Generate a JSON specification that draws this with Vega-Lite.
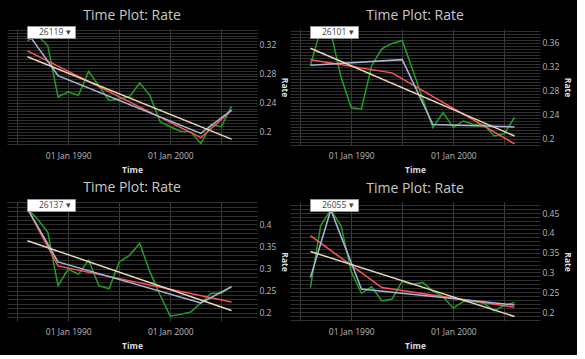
{
  "$schema": "https://vega.github.io/schema/vega-lite/v6.json",
  "background": "black",
  "padding": {"left": 7, "top": 8, "right": 5, "bottom": 5},
  "data": {
    "values": [
      {"id": "26119", "series": "Rate", "date": "1986-01-01", "rate": 0.325},
      {"id": "26119", "series": "Rate", "date": "1987-01-01", "rate": 0.332},
      {"id": "26119", "series": "Rate", "date": "1988-01-01", "rate": 0.318},
      {"id": "26119", "series": "Rate", "date": "1989-01-01", "rate": 0.248},
      {"id": "26119", "series": "Rate", "date": "1990-01-01", "rate": 0.255},
      {"id": "26119", "series": "Rate", "date": "1991-01-01", "rate": 0.25},
      {"id": "26119", "series": "Rate", "date": "1992-01-01", "rate": 0.283},
      {"id": "26119", "series": "Rate", "date": "1993-01-01", "rate": 0.263},
      {"id": "26119", "series": "Rate", "date": "1994-01-01", "rate": 0.243},
      {"id": "26119", "series": "Rate", "date": "1995-01-01", "rate": 0.245},
      {"id": "26119", "series": "Rate", "date": "1996-01-01", "rate": 0.248},
      {"id": "26119", "series": "Rate", "date": "1997-01-01", "rate": 0.267},
      {"id": "26119", "series": "Rate", "date": "1998-01-01", "rate": 0.25},
      {"id": "26119", "series": "Rate", "date": "1999-01-01", "rate": 0.214},
      {"id": "26119", "series": "Rate", "date": "2000-01-01", "rate": 0.207},
      {"id": "26119", "series": "Rate", "date": "2001-01-01", "rate": 0.201},
      {"id": "26119", "series": "Rate", "date": "2002-01-01", "rate": 0.2},
      {"id": "26119", "series": "Rate", "date": "2003-01-01", "rate": 0.184},
      {"id": "26119", "series": "Rate", "date": "2004-01-01", "rate": 0.21},
      {"id": "26119", "series": "Rate", "date": "2005-01-01", "rate": 0.207},
      {"id": "26119", "series": "Rate", "date": "2006-01-01", "rate": 0.235},
      {"id": "26119", "series": "Segmented fit", "date": "1986-01-01", "rate": 0.311},
      {"id": "26119", "series": "Segmented fit", "date": "2003-01-01", "rate": 0.192},
      {"id": "26119", "series": "Segmented fit", "date": "2006-01-01", "rate": 0.2295},
      {"id": "26119", "series": "Breakpoint fit", "date": "1986-01-01", "rate": 0.336},
      {"id": "26119", "series": "Breakpoint fit", "date": "1989-01-01", "rate": 0.277},
      {"id": "26119", "series": "Breakpoint fit", "date": "2003-01-01", "rate": 0.198},
      {"id": "26119", "series": "Breakpoint fit", "date": "2006-01-01", "rate": 0.23},
      {"id": "26119", "series": "Linear trend", "date": "1986-01-01", "rate": 0.303},
      {"id": "26119", "series": "Linear trend", "date": "2006-01-01", "rate": 0.19},

      {"id": "26101", "series": "Rate", "date": "1986-01-01", "rate": 0.3225},
      {"id": "26101", "series": "Rate", "date": "1987-01-01", "rate": 0.382},
      {"id": "26101", "series": "Rate", "date": "1988-01-01", "rate": 0.378},
      {"id": "26101", "series": "Rate", "date": "1989-01-01", "rate": 0.303},
      {"id": "26101", "series": "Rate", "date": "1990-01-01", "rate": 0.252},
      {"id": "26101", "series": "Rate", "date": "1991-01-01", "rate": 0.25},
      {"id": "26101", "series": "Rate", "date": "1992-01-01", "rate": 0.322},
      {"id": "26101", "series": "Rate", "date": "1993-01-01", "rate": 0.35},
      {"id": "26101", "series": "Rate", "date": "1994-01-01", "rate": 0.359},
      {"id": "26101", "series": "Rate", "date": "1995-01-01", "rate": 0.364},
      {"id": "26101", "series": "Rate", "date": "1996-01-01", "rate": 0.316},
      {"id": "26101", "series": "Rate", "date": "1997-01-01", "rate": 0.267},
      {"id": "26101", "series": "Rate", "date": "1998-01-01", "rate": 0.219},
      {"id": "26101", "series": "Rate", "date": "1999-01-01", "rate": 0.244},
      {"id": "26101", "series": "Rate", "date": "2000-01-01", "rate": 0.219},
      {"id": "26101", "series": "Rate", "date": "2001-01-01", "rate": 0.23},
      {"id": "26101", "series": "Rate", "date": "2002-01-01", "rate": 0.224},
      {"id": "26101", "series": "Rate", "date": "2003-01-01", "rate": 0.224},
      {"id": "26101", "series": "Rate", "date": "2004-01-01", "rate": 0.205},
      {"id": "26101", "series": "Rate", "date": "2005-01-01", "rate": 0.209},
      {"id": "26101", "series": "Rate", "date": "2006-01-01", "rate": 0.236},
      {"id": "26101", "series": "Segmented fit", "date": "1986-01-01", "rate": 0.332},
      {"id": "26101", "series": "Segmented fit", "date": "1994-01-01", "rate": 0.31},
      {"id": "26101", "series": "Segmented fit", "date": "2006-01-01", "rate": 0.192},
      {"id": "26101", "series": "Breakpoint fit", "date": "1986-01-01", "rate": 0.3225},
      {"id": "26101", "series": "Breakpoint fit", "date": "1995-01-01", "rate": 0.332},
      {"id": "26101", "series": "Breakpoint fit", "date": "1998-01-01", "rate": 0.224},
      {"id": "26101", "series": "Breakpoint fit", "date": "2006-01-01", "rate": 0.22},
      {"id": "26101", "series": "Linear trend", "date": "1986-01-01", "rate": 0.351},
      {"id": "26101", "series": "Linear trend", "date": "2006-01-01", "rate": 0.205},

      {"id": "26137", "series": "Rate", "date": "1986-01-01", "rate": 0.436},
      {"id": "26137", "series": "Rate", "date": "1987-01-01", "rate": 0.412},
      {"id": "26137", "series": "Rate", "date": "1988-01-01", "rate": 0.382},
      {"id": "26137", "series": "Rate", "date": "1989-01-01", "rate": 0.261},
      {"id": "26137", "series": "Rate", "date": "1990-01-01", "rate": 0.299},
      {"id": "26137", "series": "Rate", "date": "1991-01-01", "rate": 0.287},
      {"id": "26137", "series": "Rate", "date": "1992-01-01", "rate": 0.319},
      {"id": "26137", "series": "Rate", "date": "1993-01-01", "rate": 0.261},
      {"id": "26137", "series": "Rate", "date": "1994-01-01", "rate": 0.254},
      {"id": "26137", "series": "Rate", "date": "1995-01-01", "rate": 0.315},
      {"id": "26137", "series": "Rate", "date": "1996-01-01", "rate": 0.33},
      {"id": "26137", "series": "Rate", "date": "1997-01-01", "rate": 0.357},
      {"id": "26137", "series": "Rate", "date": "1998-01-01", "rate": 0.293},
      {"id": "26137", "series": "Rate", "date": "1999-01-01", "rate": 0.24},
      {"id": "26137", "series": "Rate", "date": "2000-01-01", "rate": 0.192},
      {"id": "26137", "series": "Rate", "date": "2001-01-01", "rate": 0.196},
      {"id": "26137", "series": "Rate", "date": "2002-01-01", "rate": 0.2015},
      {"id": "26137", "series": "Rate", "date": "2003-01-01", "rate": 0.222},
      {"id": "26137", "series": "Rate", "date": "2004-01-01", "rate": 0.244},
      {"id": "26137", "series": "Rate", "date": "2005-01-01", "rate": 0.244},
      {"id": "26137", "series": "Rate", "date": "2006-01-01", "rate": 0.259},
      {"id": "26137", "series": "Segmented fit", "date": "1986-01-01", "rate": 0.436},
      {"id": "26137", "series": "Segmented fit", "date": "1989-01-01", "rate": 0.306},
      {"id": "26137", "series": "Segmented fit", "date": "2006-01-01", "rate": 0.224},
      {"id": "26137", "series": "Breakpoint fit", "date": "1986-01-01", "rate": 0.436},
      {"id": "26137", "series": "Breakpoint fit", "date": "1989-01-01", "rate": 0.315},
      {"id": "26137", "series": "Breakpoint fit", "date": "2003-01-01", "rate": 0.222},
      {"id": "26137", "series": "Breakpoint fit", "date": "2006-01-01", "rate": 0.259},
      {"id": "26137", "series": "Linear trend", "date": "1986-01-01", "rate": 0.363},
      {"id": "26137", "series": "Linear trend", "date": "2006-01-01", "rate": 0.205},

      {"id": "26055", "series": "Rate", "date": "1986-01-01", "rate": 0.262},
      {"id": "26055", "series": "Rate", "date": "1987-01-01", "rate": 0.418},
      {"id": "26055", "series": "Rate", "date": "1988-01-01", "rate": 0.458},
      {"id": "26055", "series": "Rate", "date": "1989-01-01", "rate": 0.418},
      {"id": "26055", "series": "Rate", "date": "1990-01-01", "rate": 0.302},
      {"id": "26055", "series": "Rate", "date": "1991-01-01", "rate": 0.2475},
      {"id": "26055", "series": "Rate", "date": "1992-01-01", "rate": 0.264},
      {"id": "26055", "series": "Rate", "date": "1993-01-01", "rate": 0.228},
      {"id": "26055", "series": "Rate", "date": "1994-01-01", "rate": 0.233},
      {"id": "26055", "series": "Rate", "date": "1995-01-01", "rate": 0.278},
      {"id": "26055", "series": "Rate", "date": "1996-01-01", "rate": 0.27},
      {"id": "26055", "series": "Rate", "date": "1997-01-01", "rate": 0.275},
      {"id": "26055", "series": "Rate", "date": "1998-01-01", "rate": 0.253},
      {"id": "26055", "series": "Rate", "date": "1999-01-01", "rate": 0.239},
      {"id": "26055", "series": "Rate", "date": "2000-01-01", "rate": 0.21},
      {"id": "26055", "series": "Rate", "date": "2001-01-01", "rate": 0.227},
      {"id": "26055", "series": "Rate", "date": "2002-01-01", "rate": 0.227},
      {"id": "26055", "series": "Rate", "date": "2003-01-01", "rate": 0.2225},
      {"id": "26055", "series": "Rate", "date": "2004-01-01", "rate": 0.203},
      {"id": "26055", "series": "Rate", "date": "2005-01-01", "rate": 0.217},
      {"id": "26055", "series": "Rate", "date": "2006-01-01", "rate": 0.224},
      {"id": "26055", "series": "Segmented fit", "date": "1986-01-01", "rate": 0.393},
      {"id": "26055", "series": "Segmented fit", "date": "1993-01-01", "rate": 0.262},
      {"id": "26055", "series": "Segmented fit", "date": "2006-01-01", "rate": 0.2125},
      {"id": "26055", "series": "Breakpoint fit", "date": "1986-01-01", "rate": 0.287},
      {"id": "26055", "series": "Breakpoint fit", "date": "1988-01-01", "rate": 0.458},
      {"id": "26055", "series": "Breakpoint fit", "date": "1991-01-01", "rate": 0.258},
      {"id": "26055", "series": "Breakpoint fit", "date": "2006-01-01", "rate": 0.218},
      {"id": "26055", "series": "Linear trend", "date": "1986-01-01", "rate": 0.353},
      {"id": "26055", "series": "Linear trend", "date": "2006-01-01", "rate": 0.189}
    ]
  },
  "resolve": {"scale": {"opacity": "independent", "y": "independent"}, "legend": {"opacity": "independent"}},
  "spacing": 7,
  "vconcat": [
    {
      "resolve": {"scale": {"opacity": "independent", "y": "independent"}, "legend": {"opacity": "independent"}},
      "spacing": 1,
      "hconcat": [
        {
          "title": "Time Plot: Rate",
          "width": 250, "height": 116,
          "transform": [{"filter": "datum.id == '26119'"}],
          "mark": {"type": "line", "strokeWidth": 1.5, "clip": true},
          "encoding": {
            "x": {"field": "date", "type": "temporal", "title": "Time",
              "scale": {"type": "utc", "domain": [{"year": 1984, "month": 1, "date": 1, "utc": true}, {"year": 2008, "month": 7, "date": 1, "utc": true}]},
              "axis": {"values": [{"year": 1985, "utc": true}, {"year": 1990, "utc": true}, {"year": 1995, "utc": true}, {"year": 2000, "utc": true}, {"year": 2005, "utc": true}],
                "labelExpr": "(utcFormat(datum.value, '%Y') == '1990' || utcFormat(datum.value, '%Y') == '2000') ? utcFormat(datum.value, '%d %b %Y') : ''", "gridColor": "#3c3c3c"}},
            "y": {"field": "rate", "type": "quantitative", "title": "Rate",
              "scale": {"domain": [0.182, 0.341], "nice": false, "zero": false},
              "axis": {"orient": "right", "values": [0.184,0.188,0.192,0.196,0.2,0.204,0.208,0.212,0.216,0.22,0.224,0.228,0.232,0.236,0.24,0.244,0.248,0.252,0.256,0.26,0.264,0.268,0.272,0.276,0.28,0.284,0.288,0.292,0.296,0.3,0.304,0.308,0.312,0.316,0.32,0.324,0.328,0.332,0.336,0.34],
                "labelExpr": "abs(datum.value*25 - round(datum.value*25)) < 0.01 ? toString(round(datum.value*100)/100) : ''"}},
            "color": {"field": "series", "type": "nominal", "scale": {"domain": ["Rate", "Segmented fit", "Breakpoint fit", "Linear trend"], "range": ["#22a022", "#ff5555", "#a9b6da", "#e8d6b4"]}, "legend": null},
            "opacity": {"field": "id", "type": "nominal", "scale": {"range": [1]},
              "legend": {"orient": "none", "legendX": 20, "legendY": -3, "title": null, "fillColor": "white", "strokeColor": "#999", "padding": 1.5, "symbolSize": 0, "symbolStrokeWidth": 0, "labelOffset": 2, "labelColor": "#444", "labelFontSize": 8.5, "labelExpr": "datum.label + '  \u25be'"}}
          }
        },
        {
          "title": "Time Plot: Rate",
          "width": 250, "height": 116,
          "transform": [{"filter": "datum.id == '26101'"}],
          "mark": {"type": "line", "strokeWidth": 1.5, "clip": true},
          "encoding": {
            "x": {"field": "date", "type": "temporal", "title": "Time",
              "scale": {"type": "utc", "domain": [{"year": 1984, "month": 1, "date": 1, "utc": true}, {"year": 2008, "month": 7, "date": 1, "utc": true}]},
              "axis": {"values": [{"year": 1985, "utc": true}, {"year": 1990, "utc": true}, {"year": 1995, "utc": true}, {"year": 2000, "utc": true}, {"year": 2005, "utc": true}],
                "labelExpr": "(utcFormat(datum.value, '%Y') == '1990' || utcFormat(datum.value, '%Y') == '2000') ? utcFormat(datum.value, '%d %b %Y') : ''", "gridColor": "#3c3c3c"}},
            "y": {"field": "rate", "type": "quantitative", "title": "Rate",
              "scale": {"domain": [0.19, 0.383], "nice": false, "zero": false},
              "axis": {"orient": "right", "values": [0.19,0.195,0.2,0.205,0.21,0.215,0.22,0.225,0.23,0.235,0.24,0.245,0.25,0.255,0.26,0.265,0.27,0.275,0.28,0.285,0.29,0.295,0.3,0.305,0.31,0.315,0.32,0.325,0.33,0.335,0.34,0.345,0.35,0.355,0.36,0.365,0.37,0.375,0.38],
                "labelExpr": "abs(datum.value*25 - round(datum.value*25)) < 0.01 ? toString(round(datum.value*100)/100) : ''"}},
            "color": {"field": "series", "type": "nominal", "scale": {"domain": ["Rate", "Segmented fit", "Breakpoint fit", "Linear trend"], "range": ["#22a022", "#ff5555", "#a9b6da", "#e8d6b4"]}, "legend": null},
            "opacity": {"field": "id", "type": "nominal", "scale": {"range": [1]},
              "legend": {"orient": "none", "legendX": 20, "legendY": -3, "title": null, "fillColor": "white", "strokeColor": "#999", "padding": 1.5, "symbolSize": 0, "symbolStrokeWidth": 0, "labelOffset": 2, "labelColor": "#444", "labelFontSize": 8.5, "labelExpr": "datum.label + '  \u25be'"}}
          }
        }
      ]
    },
    {
      "resolve": {"scale": {"opacity": "independent", "y": "independent"}, "legend": {"opacity": "independent"}},
      "spacing": 1,
      "hconcat": [
        {
          "title": "Time Plot: Rate",
          "width": 250, "height": 119,
          "transform": [{"filter": "datum.id == '26137'"}],
          "mark": {"type": "line", "strokeWidth": 1.5, "clip": true},
          "encoding": {
            "x": {"field": "date", "type": "temporal", "title": "Time",
              "scale": {"type": "utc", "domain": [{"year": 1984, "month": 1, "date": 1, "utc": true}, {"year": 2008, "month": 7, "date": 1, "utc": true}]},
              "axis": {"values": [{"year": 1985, "utc": true}, {"year": 1990, "utc": true}, {"year": 1995, "utc": true}, {"year": 2000, "utc": true}, {"year": 2005, "utc": true}],
                "labelExpr": "(utcFormat(datum.value, '%Y') == '1990' || utcFormat(datum.value, '%Y') == '2000') ? utcFormat(datum.value, '%d %b %Y') : ''", "gridColor": "#3c3c3c"}},
            "y": {"field": "rate", "type": "quantitative", "title": "Rate",
              "scale": {"domain": [0.181, 0.451], "nice": false, "zero": false},
              "axis": {"orient": "right", "values": [0.19,0.2,0.21,0.22,0.23,0.24,0.25,0.26,0.27,0.28,0.29,0.3,0.31,0.32,0.33,0.34,0.35,0.36,0.37,0.38,0.39,0.4,0.41,0.42,0.43,0.44,0.45],
                "labelExpr": "datum.value < 0.445 && abs(datum.value*20 - round(datum.value*20)) < 0.01 ? toString(round(datum.value*100)/100) : ''"}},
            "color": {"field": "series", "type": "nominal", "scale": {"domain": ["Rate", "Segmented fit", "Breakpoint fit", "Linear trend"], "range": ["#22a022", "#ff5555", "#a9b6da", "#e8d6b4"]}, "legend": null},
            "opacity": {"field": "id", "type": "nominal", "scale": {"range": [1]},
              "legend": {"orient": "none", "legendX": 20, "legendY": -3, "title": null, "fillColor": "white", "strokeColor": "#999", "padding": 1.5, "symbolSize": 0, "symbolStrokeWidth": 0, "labelOffset": 2, "labelColor": "#444", "labelFontSize": 8.5, "labelExpr": "datum.label + '  \u25be'"}}
          }
        },
        {
          "title": "Time Plot: Rate",
          "width": 250, "height": 119,
          "transform": [{"filter": "datum.id == '26055'"}],
          "mark": {"type": "line", "strokeWidth": 1.5, "clip": true},
          "encoding": {
            "x": {"field": "date", "type": "temporal", "title": "Time",
              "scale": {"type": "utc", "domain": [{"year": 1984, "month": 1, "date": 1, "utc": true}, {"year": 2008, "month": 7, "date": 1, "utc": true}]},
              "axis": {"values": [{"year": 1985, "utc": true}, {"year": 1990, "utc": true}, {"year": 1995, "utc": true}, {"year": 2000, "utc": true}, {"year": 2005, "utc": true}],
                "labelExpr": "(utcFormat(datum.value, '%Y') == '1990' || utcFormat(datum.value, '%Y') == '2000') ? utcFormat(datum.value, '%d %b %Y') : ''", "gridColor": "#3c3c3c"}},
            "y": {"field": "rate", "type": "quantitative", "title": "Rate",
              "scale": {"domain": [0.1775, 0.478], "nice": false, "zero": false},
              "axis": {"orient": "right", "values": [0.18,0.19,0.2,0.21,0.22,0.23,0.24,0.25,0.26,0.27,0.28,0.29,0.3,0.31,0.32,0.33,0.34,0.35,0.36,0.37,0.38,0.39,0.4,0.41,0.42,0.43,0.44,0.45,0.46,0.47],
                "labelExpr": "abs(datum.value*20 - round(datum.value*20)) < 0.01 ? toString(round(datum.value*100)/100) : ''"}},
            "color": {"field": "series", "type": "nominal", "scale": {"domain": ["Rate", "Segmented fit", "Breakpoint fit", "Linear trend"], "range": ["#22a022", "#ff5555", "#a9b6da", "#e8d6b4"]}, "legend": null},
            "opacity": {"field": "id", "type": "nominal", "scale": {"range": [1]},
              "legend": {"orient": "none", "legendX": 20, "legendY": -3, "title": null, "fillColor": "white", "strokeColor": "#999", "padding": 1.5, "symbolSize": 0, "symbolStrokeWidth": 0, "labelOffset": 2, "labelColor": "#444", "labelFontSize": 8.5, "labelExpr": "datum.label + '  \u25be'"}}
          }
        }
      ]
    }
  ],
  "config": {
    "font": "Open Sans",
    "view": {"stroke": null},
    "title": {"color": "#c8c8c8", "fontSize": 14, "fontWeight": "normal", "offset": 3},
    "axis": {"domain": false, "ticks": false, "labelColor": "#bbbbbb", "labelFontSize": 8.5, "titleColor": "#dddddd", "titleFontSize": 8.5, "titleFontWeight": "bold", "gridColor": "#303030", "gridWidth": 1, "labelOverlap": false, "labelFlush": false},
    "axisX": {"labelPadding": 6, "titlePadding": 6},
    "axisY": {"labelPadding": 2, "titlePadding": 4}
  }
}
